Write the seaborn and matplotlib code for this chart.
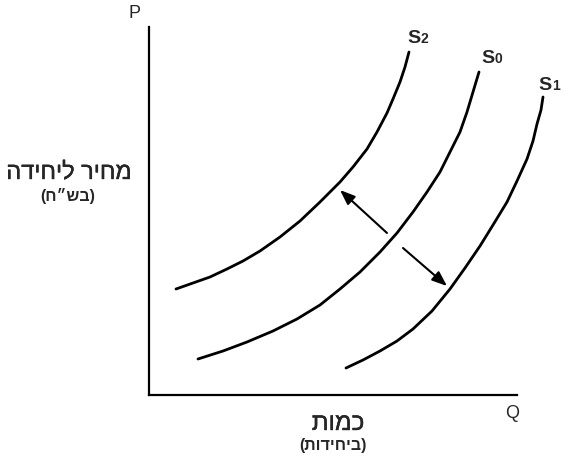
import matplotlib
matplotlib.use("Agg")
import matplotlib.pyplot as plt
import matplotlib.patheffects as pe
import numpy as np
import pandas as pd
import seaborn as sns

# supply curves (quantity, price)
s2_q = [27, 44, 61, 78, 94, 111, 131, 151, 171, 191, 204, 218, 228, 238, 244, 251, 256, 260]
s2_p = [106, 112, 118, 126, 134, 144, 158, 174, 193, 213, 228, 246, 263, 282, 296, 313, 328, 343]
s0_q = [49, 74, 98, 124, 148, 171, 191, 211, 231, 248, 264, 278, 291, 301, 311, 318, 324, 330]
s0_p = [36, 44, 53, 64, 76, 90, 106, 123, 143, 162, 183, 203, 223, 243, 263, 283, 303, 323]
s1_q = [197, 214, 231, 248, 264, 283, 301, 316, 331, 344, 358, 368, 378, 384, 388, 392, 394]
s1_p = [27, 35, 44, 54, 66, 84, 106, 127, 149, 170, 193, 214, 236, 254, 271, 285, 298]

# shift arrows (start q, start p, end q, end p)
arrow_left = [238, 162, 191, 205]
arrow_right = [254, 147, 298, 109]

# labels
curve_names = ["S", "S", "S"]
curve_subs = ["2", "0", "1"]
label_pos = [(258, 353), (332, 333), (389, 306)]
y_title = "מחיר ליחידה"
y_unit = "בש״ח"
x_title = "כמות"
x_unit = "ביחידות"


def rtl(s):
    # matplotlib has no bidi support, flip the hebrew by hand
    return s[::-1]


df = pd.concat([
    pd.DataFrame({"q": s2_q, "p": s2_p, "curve": "S2"}),
    pd.DataFrame({"q": s0_q, "p": s0_p, "curve": "S0"}),
    pd.DataFrame({"q": s1_q, "p": s1_p, "curve": "S1"}),
])

sns.set_style("white")
plt.rcParams["font.family"] = ["Liberation Sans", "DejaVu Sans"]

fig = plt.figure(figsize=(5.66, 4.64), dpi=100)
ax = fig.add_axes([149 / 566, 68 / 464, 368 / 566, 368 / 464])

sns.lineplot(data=df, x="q", y="p", hue="curve", units="curve", estimator=None,
             sort=False, palette=["black"] * 3, linewidth=2.0, legend=False,
             ax=ax, clip_on=False)

ax.set_xlim(0, 368)
ax.set_ylim(0, 368)
ax.set_xticks([])
ax.set_yticks([])
ax.set_xlabel("")
ax.set_ylabel("")
for side in ["top", "right"]:
    ax.spines[side].set_visible(False)
for side in ["left", "bottom"]:
    ax.spines[side].set_color("black")
    ax.spines[side].set_linewidth(1.6)

for a in [arrow_left, arrow_right]:
    ax.annotate("", xy=(a[2], a[3]), xytext=(a[0], a[1]),
                arrowprops=dict(arrowstyle="-|>,head_length=0.9,head_width=0.35",
                                mutation_scale=10, color="black", lw=1.5,
                                shrinkA=0, shrinkB=0))

for name, sub, pos in zip(curve_names, curve_subs, label_pos):
    t = ax.text(pos[0], pos[1], name, fontsize=14, fontweight="bold",
                ha="left", va="baseline")
    ax.annotate(sub, xy=(1, 0), xycoords=t, xytext=(0.5, 1),
                textcoords="offset points", fontsize=10, fontweight="bold",
                ha="left", va="bottom")

ax.text(-14, 382, "P", fontsize=13, ha="center", va="center", clip_on=False)
ax.text(363, -18, "Q", fontsize=13, ha="center", va="center", clip_on=False)

thick = [pe.withStroke(linewidth=0.25, foreground="black")]
fig.text(69 / 566, 1 - 174 / 464, rtl(y_title), fontsize=17, ha="center",
         va="center", path_effects=thick)
fig.text(68 / 566, 1 - 196 / 464, "(" + rtl(y_unit) + ")", fontsize=11.5,
         fontweight="bold", ha="center", va="center")
fig.text(338 / 566, 1 - 425 / 464, rtl(x_title), fontsize=17.5, ha="center",
         va="center", path_effects=thick)
fig.text(333 / 566, 1 - 446 / 464, "(" + rtl(x_unit) + ")", fontsize=11.5,
         fontweight="bold", ha="center", va="center")

fig.savefig("out.png", dpi=100)
